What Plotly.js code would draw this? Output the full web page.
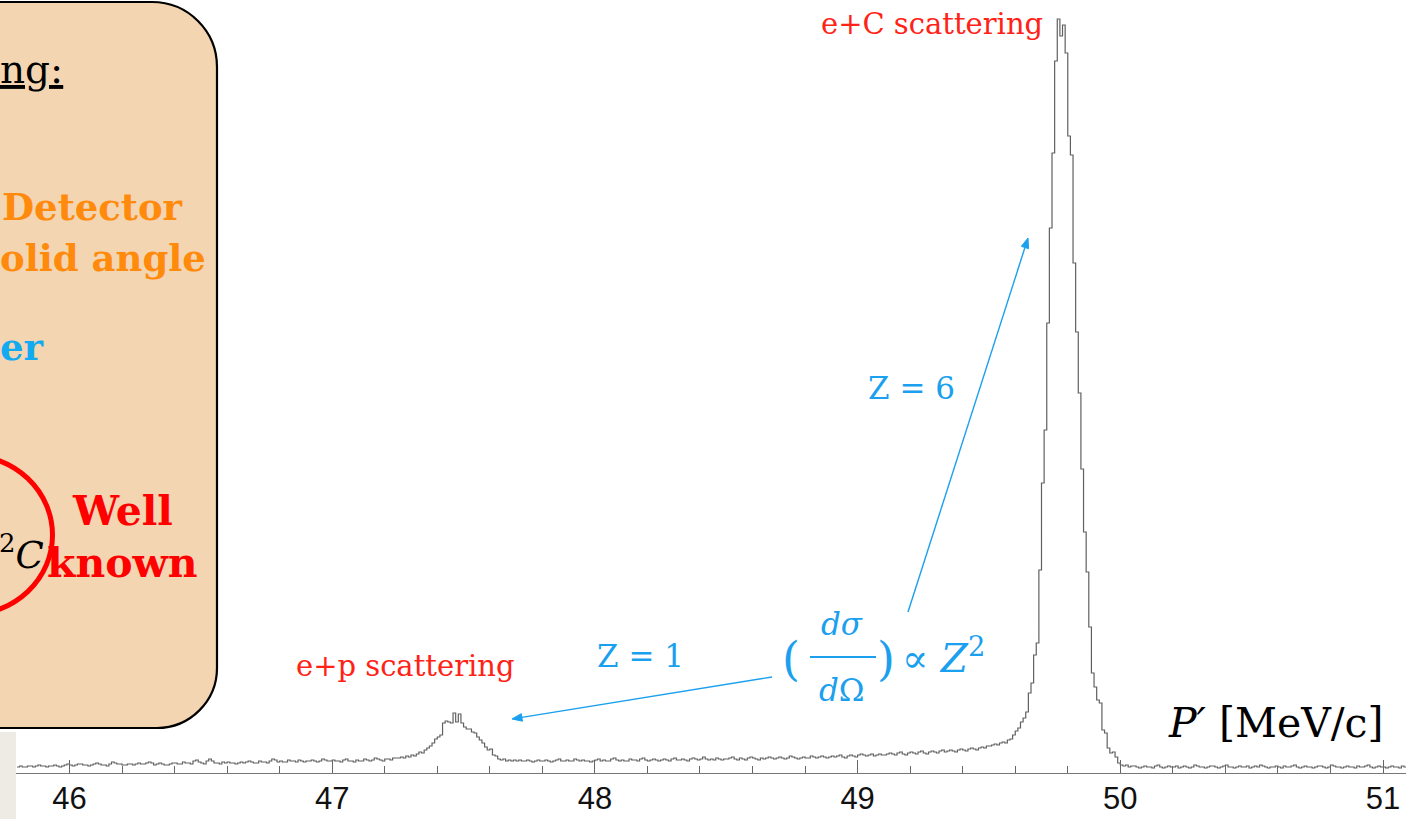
<!DOCTYPE html>
<html>
<head>
<meta charset="utf-8">
<script src="https://cdn.plot.ly/plotly-3.0.1.min.js"></script>
<style>
  html, body { margin: 0; padding: 0; background: #ffffff; }
  #chart { width: 1406px; height: 819px; }
</style>
</head>
<body>
<div id="chart"></div>
<script>
// Momentum spectrum of scattered electrons, 0.01 MeV/c bins starting at 45.80 MeV/c
const binStart = 45.80;
const binWidth = 0.01;

// 45.80 - 47.25 MeV/c : low-momentum background
const countsLowTail = [
  6,7,6,6,7,7,6,7,8,7,7,6,7,7,8,7,6,7,8,9,
  8,7,8,9,9,8,8,7,8,9,10,9,8,8,7,9,11,10,9,9,
  8,8,9,9,8,9,10,9,9,10,11,10,8,9,10,9,8,8,9,10,
  10,9,9,11,10,10,9,12,13,11,10,9,12,14,12,10,10,9,11,10,
  11,10,10,9,10,11,10,11,12,11,10,10,12,11,11,10,12,14,13,11,
  12,11,11,13,12,12,11,13,12,11,12,12,13,12,11,12,14,13,12,12,
  13,12,12,11,13,14,12,12,11,13,12,12,14,13,12,13,15,14,13,12,14,14,13,15,15
];

// 47.25 - 47.70 MeV/c : elastic e+p peak
const countsProtonPeak = [
  15,16,15,17,16,18,17,19,21,20,
  23,25,27,30,34,36,38,50,52,51,
  50,60,51,59,50,46,44,44,41,40,
  36,33,30,26,23,24,18,17,14,13,
  14,12,13,12,13
];

// 47.70 - 49.50 MeV/c : background between the peaks
const countsMiddle = [
  12,13,12,12,13,12,11,12,13,12,12,13,12,11,12,13,14,12,12,13,
  12,12,14,13,12,13,12,12,11,12,13,14,12,13,12,12,14,15,13,12,
  13,12,12,14,13,13,12,14,15,13,12,13,14,13,12,13,14,13,12,14,
  15,13,13,14,13,12,14,15,14,13,14,16,14,13,14,13,15,14,13,14,
  14,15,16,14,13,15,14,13,15,16,15,14,13,15,14,15,16,15,14,15,
  16,15,14,15,17,16,15,14,15,16,15,15,17,16,15,16,17,16,15,16,
  17,16,17,18,16,15,17,18,17,16,18,19,18,17,18,19,17,18,19,18,
  18,19,20,19,18,20,21,19,18,20,21,20,19,21,22,20,19,21,22,21,
  20,22,23,21,22,23,22,21,23,24,23,22,24,25,24,23,25,26,25,27
];

// 49.50 - 50.05 MeV/c : elastic e+C peak
const countsCarbonPeak = [
  27,28,29,28,30,31,30,33,34,38,
  42,45,51,55,61,80,90,118,130,203,
  290,343,450,545,620,712,754,737,748,720,
  637,618,510,441,380,304,241,201,146,100,
  86,73,70,43,40,25,20,21,16,10,
  8,7,8,6,7
];

// 50.05 - 51.09 MeV/c : above the elastic peak
const countsHighTail = [
  7,6,5,6,7,6,6,5,7,8,6,5,6,7,6,6,7,5,6,7,
  6,5,6,8,7,6,6,5,6,7,7,6,5,6,7,8,6,6,5,6,
  7,6,6,7,5,6,7,6,8,7,6,5,6,6,7,6,5,7,6,6,
  7,8,6,5,6,7,6,6,5,6,7,7,6,5,6,8,7,6,6,5,
  6,7,6,6,5,7,6,6,7,8,6,5,6,7,6,6,5,6,7,6,
  6,5,7,6
];

const tickValues = [46, 47, 48, 49, 50, 51];

const counts = countsLowTail.concat(countsProtonPeak, countsMiddle, countsCarbonPeak, countsHighTail);

// Step outline: each bin drawn flat from its left edge to its right edge
const edges = counts.map((_, i) => +(binStart + i * binWidth).toFixed(4));
edges.push(+(binStart + counts.length * binWidth).toFixed(4));
const stepY = counts.concat([counts[counts.length - 1]]);

// Page geometry (plot area spans x 16..1406, y 0..773)
const W = 1406, H = 819;
const M = { l: 16, r: 0, t: 0, b: 46 };
const plotW = W - M.l - M.r, plotH = H - M.t - M.b;
const px = x => (x - M.l) / plotW;
const py = y => (M.t + plotH - y) / plotH;

const serif = 'DejaVu Serif, Liberation Serif, serif';
const red = '#ff2216';
const blue = '#1aa0ee';
const orange = '#ff8a0c';

const trace = {
  type: 'scatter',
  mode: 'lines',
  x: edges,
  y: stepY,
  line: { shape: 'hv', color: '#606060', width: 1.2 },
  hoverinfo: 'skip'
};

function label(text, x, y, opts) {
  return Object.assign({
    text: text, xref: 'paper', yref: 'paper',
    x: px(x), y: py(y), xanchor: 'center', yanchor: 'middle',
    showarrow: false,
    font: { family: serif, size: 31, color: blue }
  }, opts || {});
}

const annotations = [
  label('e+C scattering', 932, 24, { font: { family: serif, size: 29, color: red } }),
  label('e+p scattering', 406, 666, { font: { family: serif, size: 29, color: red } }),
  label('Z = 6', 912, 388),
  label('Z = 1', 640, 656),
  label('(', 791, 659, { font: { family: serif, size: 46, color: blue } }),
  label('<i>dσ</i>', 842, 624),
  label('<i>d</i>Ω', 842, 690),
  label(')', 886, 659, { font: { family: serif, size: 46, color: blue } }),
  label('∝ <i>Z</i><sup>2</sup>', 900, 656, { xanchor: 'left', font: { family: serif, size: 39, color: blue } }),
  label('<i>P′</i> [MeV/c]', 1386, 723, { xanchor: 'right', font: { family: serif, size: 41, color: '#000' } }),
  // Text in the information panel
  label('<u>ng:</u>', -2, 70, { xanchor: 'left', font: { family: serif, size: 39, color: '#000' } }),
  label('<b>Detector</b>', 0, 207, { xanchor: 'left', font: { family: serif, size: 37, color: orange } }),
  label('<b>olid angle</b>', -2, 258, { xanchor: 'left', font: { family: serif, size: 37, color: orange } }),
  label('<b>er</b>', -2, 347, { xanchor: 'left', font: { family: serif, size: 37, color: '#12aaf0' } }),
  label('<sup>2</sup><i>C</i>', 46, 552, { xanchor: 'right', font: { family: serif, size: 37, color: '#000' } }),
  label('<b>Well</b>', 122, 511, { font: { family: serif, size: 41, color: '#ff0000' } }),
  label('<b>known</b>', 122, 563, { font: { family: serif, size: 41, color: '#ff0000' } })
];

// Rounded information panel
const P = (x, y) => px(x).toFixed(5) + ',' + py(y).toFixed(5);
const panelPath = 'M' + P(-40, 2) + ' L' + P(152, 2) +
  ' C' + P(188, 2) + ' ' + P(217, 31) + ' ' + P(217, 67) +
  ' L' + P(217, 668) +
  ' C' + P(217, 701) + ' ' + P(190, 728) + ' ' + P(157, 728) +
  ' L' + P(-40, 728) + ' Z';

// Thin arrow from (x0, y0) to the tip (x1, y1), page pixels
function arrow(x0, y0, x1, y1, color) {
  const dx = x1 - x0, dy = y1 - y0, len = Math.hypot(dx, dy);
  const ux = dx / len, uy = dy / len;
  const headLen = 10, headHalf = 3.8;
  const bx = x1 - ux * headLen, by = y1 - uy * headLen;
  const head = 'M' + P(x1, y1) + ' L' + P(bx - uy * headHalf, by + ux * headHalf) +
    ' L' + P(bx + uy * headHalf, by - ux * headHalf) + ' Z';
  return [
    { type: 'line', xref: 'paper', yref: 'paper', x0: px(x0), y0: py(y0), x1: px(bx), y1: py(by),
      line: { color: color, width: 1.4 }, layer: 'above' },
    { type: 'path', xref: 'paper', yref: 'paper', path: head,
      fillcolor: color, line: { color: color, width: 1 }, layer: 'above' }
  ];
}

const shapes = [
  { type: 'rect', xref: 'paper', yref: 'paper', x0: px(-2), x1: px(16), y0: py(732), y1: py(821),
    fillcolor: '#eeebe5', line: { width: 0 }, layer: 'above' },
  { type: 'path', xref: 'paper', yref: 'paper', path: panelPath,
    fillcolor: '#f3d5b2', line: { color: '#000', width: 2.2 }, layer: 'above' },
  { type: 'circle', xref: 'paper', yref: 'paper',
    x0: px(-32 - 84.5), x1: px(-32 + 84.5), y0: py(535 + 80), y1: py(535 - 80),
    line: { color: '#ff0000', width: 5 }, fillcolor: 'rgba(0,0,0,0)', layer: 'above' },
  { type: 'line', xref: 'paper', yref: 'paper', x0: px(810), x1: px(876), y0: py(657), y1: py(657),
    line: { color: blue, width: 2 }, layer: 'above' }
].concat(arrow(908, 612, 1028, 238, blue), arrow(772, 677, 512, 719, blue));

const layout = {
  width: W, height: H,
  margin: { l: M.l, r: M.r, t: M.t, b: M.b, pad: 0 },
  paper_bgcolor: '#ffffff',
  plot_bgcolor: 'rgba(0,0,0,0)',
  showlegend: false,
  xaxis: {
    range: [45.7963, 51.0875],
    tickmode: 'array', tickvals: tickValues, ticktext: tickValues.map(String),
    ticks: 'inside', ticklen: 13, tickwidth: 1, tickcolor: '#666',
    ticklabelstandoff: -2,
    minor: { dtick: 0.2, tick0: 46, ticks: 'inside', ticklen: 7, tickwidth: 1, tickcolor: '#666', showgrid: false },
    showline: true, linecolor: '#777', linewidth: 1.2,
    showgrid: false, zeroline: false, fixedrange: true,
    tickfont: { family: 'Liberation Sans, Arial, sans-serif', size: 31, color: '#111' }
  },
  yaxis: { range: [0, plotH], visible: false, fixedrange: true },
  annotations: annotations,
  shapes: shapes
};

Plotly.newPlot('chart', [trace], layout, { displayModeBar: false, staticPlot: true });
</script>
</body>
</html>
